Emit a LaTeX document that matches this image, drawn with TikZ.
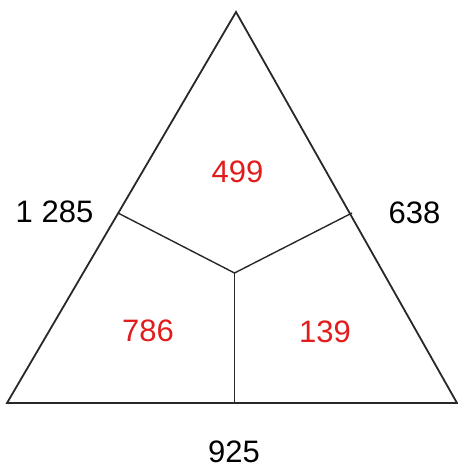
\documentclass[tikz,border=0pt]{standalone}
\usepackage{fontspec}
\setmainfont{Liberation Sans}
\definecolor{numred}{RGB}{226,28,28}
\definecolor{edge}{RGB}{40,40,40}
\begin{document}
\begin{tikzpicture}[x=1pt,y=-1pt,
  edgeline/.style={draw=edge,line width=1.8pt,line join=miter},
  inner/.style={draw=edge,line width=1.4pt},
  outer/.style={font=\fontsize{31}{34}\selectfont,text=black,inner sep=0pt},
  cell/.style={font=\fontsize{31}{34}\selectfont,text=numred,inner sep=0pt}]
\useasboundingbox (0,0) rectangle (458,472);
\coordinate (A) at (236,12);
\coordinate (BL) at (7,403);
\coordinate (BR) at (457,403);
\coordinate (O) at (234.5,273);
\coordinate (ML) at (118,213);
\coordinate (MR) at (352,213);
\coordinate (MB) at (234.5,403);
\draw[edgeline] (A) -- (BL) -- (BR) -- cycle;
\draw[inner] (ML) -- (O) -- (MR);
\draw[inner] (O) -- (MB);
\node[outer] (l) at (54.5,212) {1 285};
\node[outer] (r) at (414.5,212.5) {638};
\node[outer] (b) at (234,452) {925};
\node[cell] (t) at (237.5,172) {499};
\node[cell] (bl) at (148,331) {786};
\node[cell] (br) at (325,332) {139};
\end{tikzpicture}
\end{document}
